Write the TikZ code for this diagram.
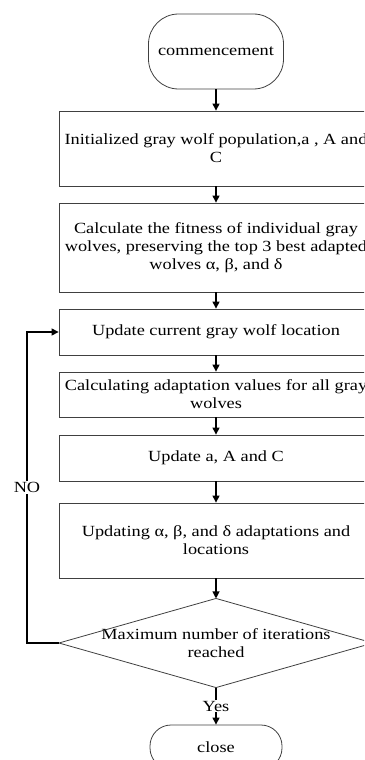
\documentclass[tikz,border=0pt]{standalone}
\usepackage{fontspec}
\setmainfont[FakeStretch=1.18]{Liberation Serif}
\usetikzlibrary{arrows.meta}
\begin{document}
\begin{tikzpicture}[   % opciones por defecto
  x=1pt, y=-1pt,     % unidades en pt, y hacia abajo
  -{Triangle[width=7pt,length=7pt]}, % estilo de flecha al final
  line width=1.1pt,  % linea de las flechas
  font=\fontsize{15.5}{18}\selectfont
]
  \tikzstyle{caja}=[draw=black!75, line width=0.8pt, rectangle,
    minimum width=314pt, inner sep=0pt, align=center];
  \tikzstyle{terminal}=[draw=black!75, line width=0.8pt, rectangle,
    rounded corners=30pt, inner sep=0pt, align=center];
  \tikzstyle{guia}=[draw=black!75, line width=0.8pt, -];
  \tikzstyle{etiqueta}=[fill=white, inner sep=1pt];
  %
  % marco de la imagen
  \useasboundingbox (0,0) rectangle (364,760);
  \clip (0,0) rectangle (364,760);
  %
  % inicio
  \node [terminal, minimum width=135pt, minimum height=75pt] (ini) at (216,51.5) {commencement};
  %
  % cajas de proceso
  \node [caja, minimum height=75pt] (init) at (216,148.5)
    {Initialized gray wolf population,a , A and\\ C};
  \node [caja, minimum height=89pt] (fit) at (216,247.5)
    {Calculate the fitness of individual gray\\ wolves, preserving the top 3 best adapted\\ wolves α, β, and δ};
  \node [caja, minimum height=46pt] (upd) at (216,332)
    {Update current gray wolf location};
  \node [caja, minimum height=45pt] (adap) at (216,394.5)
    {Calculating adaptation values for all gray\\ wolves};
  \node [caja, minimum height=46pt] (aAC) at (216,458)
    {Update a, A and C};
  \node [caja, minimum height=75pt] (abd) at (216,540.5)
    {Updating α, β, and δ adaptations and\\ locations};
  %
  % decision (rombo dibujado sobre las anclas del nodo)
  \node [minimum width=313pt, minimum height=88pt, inner sep=0pt, align=center] (max) at (216,643)
    {Maximum number of iterations\\ reached};
  \draw [guia] (max.north) -- (max.east) -- (max.south) -- (max.west) -- cycle;
  %
  % fin
  \node [terminal, rounded corners=21pt, minimum width=132pt, minimum height=44pt] (fin) at (216,747) {close};
  %
  % conexiones entre cajas
  \foreach \a/\b in {ini/init, init/fit, fit/upd, upd/adap, adap/aAC, aAC/abd} {
    \draw (\a) -- (\b);
  }
  \draw (abd) -- (max.north);
  \draw (max.south) -- (fin) node [etiqueta, pos=0.5] {Yes};
  %
  % lazo de regreso
  \coordinate (esq1) at (27,643);
  \coordinate (esq2) at (27,332);
  \draw (max.west) -- (esq1) -- (esq2) node [etiqueta, pos=0.5] {NO} -- (upd.west);
\end{tikzpicture}
\end{document}
